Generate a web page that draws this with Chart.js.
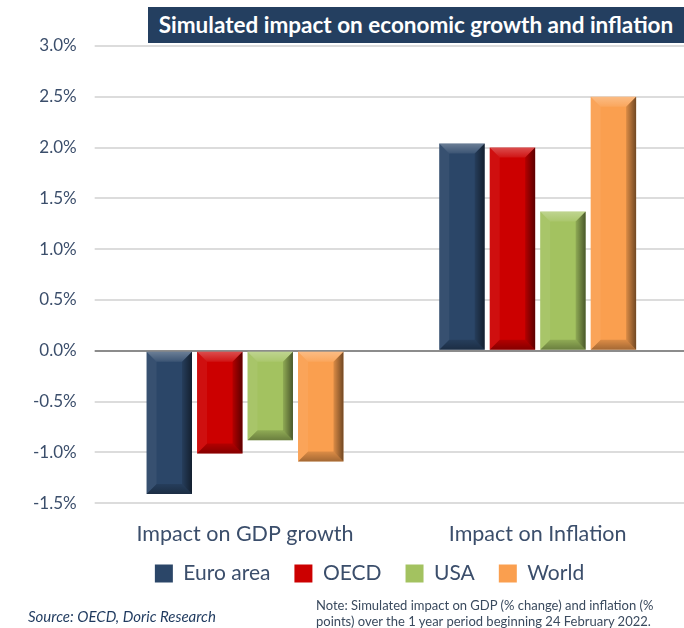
<!DOCTYPE html>
<html><head><meta charset="utf-8">
<script src="https://cdn.jsdelivr.net/npm/chart.js@4/dist/chart.umd.min.js"></script>
<style>
html,body{margin:0;padding:0;background:#fff;width:684px;height:628px;overflow:hidden;font-family:Lato,"Open Sans",sans-serif;}
#wrap{position:relative;width:684px;height:628px;}
#title{position:absolute;left:148px;top:7px;width:536px;height:36px;background:#243F60;color:#fff;font-weight:bold;font-size:22.5px;line-height:36px;text-align:center;white-space:nowrap;}
#src{position:absolute;left:28px;top:607px;font-style:italic;font-size:15px;color:#1F3A5F;}
#note{position:absolute;left:316px;top:597px;width:364px;font-size:13px;line-height:16px;color:#3a4a5e;}
canvas{position:absolute;left:0;top:0;}
</style></head><body>
<div id="wrap">
<canvas id="c" width="684" height="628"></canvas>
<div id="title">Simulated impact on economic growth and inflation</div>
<div id="src">Source: OECD, Doric Research</div>
<div id="note">Note: Simulated impact on GDP (% change) and inflation (% points) over the 1 year period beginning 24 February 2022.</div>
</div>
<script>
const categories = ["Impact on GDP growth", "Impact on Inflation"];
const seriesNames = ["Euro area", "OECD", "USA", "World"];
const euroArea = [-1.41, 2.04];
const oecd = [-1.01, 2.00];
const usa = [-0.88, 1.37];
const world = [-1.09, 2.50];
const yTicks = [3.0, 2.5, 2.0, 1.5, 1.0, 0.5, 0.0, -0.5, -1.0, -1.5];
const colors = ["#2B4668", "#CC0000", "#A3C260", "#FA9F4F"];

const bevel = {
  id: 'bevel',
  afterLayout(chart) {
    const lg = chart.legend;
    if (lg) { lg.top -= 26; lg.bottom -= 26; lg.left += 20; lg.right += 20; }
  },
  afterDatasetsDraw(chart) {
    const ctx = chart.ctx;
    chart.data.datasets.forEach((ds, di) => {
      const meta = chart.getDatasetMeta(di);
      meta.data.forEach(el => {
        const w = el.width, l = el.x - w/2, r = el.x + w/2;
        const t = Math.min(el.y, el.base), b = Math.max(el.y, el.base);
        const h = b - t, s = Math.min(10, h/2, w/2);
        ctx.save();
        const gt = ctx.createLinearGradient(0,t,0,t+s);
        gt.addColorStop(0,'rgba(255,255,255,0.30)'); gt.addColorStop(1,'rgba(255,255,255,0.08)');
        ctx.fillStyle = gt;
        ctx.beginPath(); ctx.moveTo(l,t); ctx.lineTo(r,t); ctx.lineTo(r-s,t+s); ctx.lineTo(l+s,t+s); ctx.closePath(); ctx.fill();
        const gb = ctx.createLinearGradient(0,b-s,0,b);
        gb.addColorStop(0,'rgba(0,0,0,0.12)'); gb.addColorStop(1,'rgba(0,0,0,0.35)');
        ctx.fillStyle = gb;
        ctx.beginPath(); ctx.moveTo(l,b); ctx.lineTo(r,b); ctx.lineTo(r-s,b-s); ctx.lineTo(l+s,b-s); ctx.closePath(); ctx.fill();
        const g = ctx.createLinearGradient(r-s,0,r,0);
        g.addColorStop(0,'rgba(0,0,0,0.12)'); g.addColorStop(1,'rgba(0,0,0,0.55)');
        ctx.fillStyle = g;
        ctx.beginPath(); ctx.moveTo(r,t); ctx.lineTo(r,b); ctx.lineTo(r-s,b-s); ctx.lineTo(r-s,t+s); ctx.closePath(); ctx.fill();
        ctx.fillStyle = 'rgba(255,255,255,0.06)';
        ctx.beginPath(); ctx.moveTo(l,t); ctx.lineTo(l,b); ctx.lineTo(l+s,b-s); ctx.lineTo(l+s,t+s); ctx.closePath(); ctx.fill();
        ctx.restore();
      });
    });
  }
};

const seriesData = [euroArea, oecd, usa, world];
new Chart(document.getElementById('c'), {
  type: 'bar',
  data: {
    labels: categories,
    datasets: seriesNames.map((n, i) => ({
      label: n, data: seriesData[i], backgroundColor: colors[i], borderWidth: 0,
      barPercentage: 0.9, categoryPercentage: 0.69
    }))
  },
  options: {
    responsive: false, animation: false,
    layout: { padding: { top: 46, bottom: 8, left: 15, right: 0 } },
    plugins: {
      legend: {
        position: 'bottom',
        labels: { boxWidth: 18, boxHeight: 18, padding: 24, color: '#3B4E6B', font: { family: 'Lato', size: 21 } }
      },
      tooltip: { enabled: false }
    },
    scales: {
      x: {
        grid: { display: false, drawTicks: false },
        border: { display: false },
        ticks: { color: '#3B4E6B', font: { family: 'Lato', size: 21.5 }, padding: 18 }
      },
      y: {
        min: -1.5, max: 3.0,
        afterBuildTicks: (ax) => { ax.ticks = yTicks.map(v => ({ value: v })); },
        border: { display: false },
        grid: {
          color: (c) => c.tick && c.tick.value === 0 ? '#8C8C8C' : '#DCDCDC',
          lineWidth: 2, tickLength: 4
        },
        ticks: { color: '#3B4E6B', font: { family: 'Lato', size: 17 }, padding: 18,
          callback: (v) => v.toFixed(1) + '%' }
      }
    }
  },
  plugins: [bevel]
});
</script>
</body></html>
